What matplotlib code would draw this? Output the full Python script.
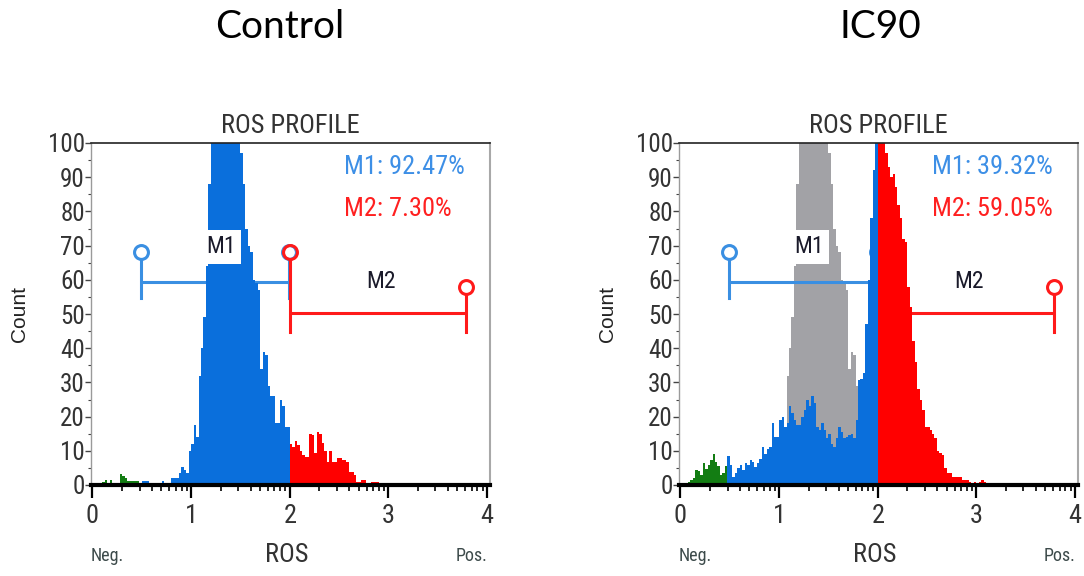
import numpy as np
import matplotlib
matplotlib.use("Agg")
import matplotlib.pyplot as plt
from matplotlib import font_manager

# ---------------- data ----------------
BIN_START = 0.0
BIN_WIDTH = 0.025
GATE_SPLIT = [0.475, 2.0]          # Neg. | M1 | M2 colour boundaries

control_counts = [
    0, 0, 0, 0, 1, 1.5, 0.5, 1.5, 0, 0, 0, 3.2, 2.5, 2, 1.2, 1.2, 1.2, 1.2, 1.2, 0,
    1.2, 1.2, 1.2, 0, 0, 0, 0, 0, 1.2, 0, 0, 0, 2, 2, 2, 3.5, 5.3, 4.5, 3.5, 10,
    12, 17.5, 14, 32, 40, 49, 64, 88, 104, 108, 112, 115, 118, 120, 118, 116, 113, 110, 106, 102,
    97, 88, 75, 70, 68, 60, 59, 57, 34, 39, 38, 29, 26, 26, 18, 18, 25, 23, 17, 17,
    12, 11, 13, 11.7, 10, 8.8, 8.3, 8.3, 15, 14.6, 9.3, 15.6, 15, 12.2, 10, 6.8, 10, 6.8, 6.8, 7.8,
    7.8, 7.3, 7.3, 6.8, 3.8, 3.8, 2.9, 1, 1, 1.5, 1.5, 0.5, 0, 1, 1, 1, 0.5, 0, 0, 0,
    0, 0, 0, 0, 0, 0, 0, 0, 0, 0,
]

ic90_counts = [
    0, 0, 0, 1, 1.5, 2, 4.4, 4, 2.9, 6.5, 4.7, 5.8, 7.3, 9, 6.8, 5.5, 2.9, 3.5, 5.6, 8.5,
    5.8, 2.4, 3.5, 5, 5.8, 4.4, 6.5, 5.8, 7.3, 6.8, 5.4, 6.5, 7.6, 11, 9, 10.5, 11, 18, 14, 14,
    19, 20, 17, 18, 23, 21, 19, 17.5, 17.5, 20, 22, 25, 23, 26, 24, 17, 16, 18, 16, 13.6,
    15, 12, 11, 13.6, 17, 15.6, 13.6, 14, 14.5, 15, 13.6, 19, 30.7, 31, 32.7, 47, 60, 78, 92, 102,
    110, 108, 103, 97, 93, 90, 91, 87, 82, 78, 72, 71, 58, 52, 42, 36, 28, 25, 22, 17,
    17, 16, 15, 13.7, 10, 9.5, 8.8, 5, 3.5, 3.5, 2.4, 2.4, 2.4, 2.4, 1.5, 1.5, 1.5, 1, 0.5, 1,
    0.5, 1, 1.5, 1, 0.5, 0.5, 0, 0, 0, 0,
]

panel_titles = ["Control", "IC90"]
m1_percent = ["92.47%", "39.32%"]
m2_percent = ["7.30%", "59.05%"]

# gate markers: [start, end]
m1_gate = [0.49, 1.99]
m2_gate = [2.0, 3.79]
m1_level = 59.5
m2_level = 50.2

x_ticks = [0, 1, 2, 3, 4]
y_ticks = list(range(0, 101, 10))

# ---------------- styling ----------------
C_GREEN = "#137d13"
C_BLUE = "#0a6fdc"
C_RED = "#ff0000"
C_GRAY = "#a2a2a6"
C_GATE_BLUE = "#3a8fe2"
C_GATE_RED = "#ff1a1a"
C_TEXT = "#333333"


def pick_font(cands, default="DejaVu Sans"):
    names = {f.name for f in font_manager.fontManager.ttflist}
    for c in cands:
        if c in names:
            return c
    return default


NARROW = pick_font(["Liberation Sans Narrow", "Arial Narrow", "Roboto Condensed",
                    "Open Sans Condensed"], "DejaVu Sans")
NARROW_STRETCH = "normal" if NARROW != "DejaVu Sans" else "condensed"
TITLE_FONT = pick_font(["Lato", "Open Sans"], "DejaVu Sans")
PLAIN = pick_font(["Liberation Sans", "Noto Sans"], "DejaVu Sans")

nfont = dict(family=NARROW, stretch=NARROW_STRETCH)

fig = plt.figure(figsize=(10.84, 5.76), dpi=100)
fig.patch.set_facecolor("white")

axes_pos = [
    [91 / 1084, 1 - 485 / 576, 399 / 1084, 342 / 576],
    [679 / 1084, 1 - 485 / 576, 399 / 1084, 342 / 576],
]
title_x = [280 / 1084, 880 / 1084]

edges = BIN_START + BIN_WIDTH * np.arange(len(control_counts) + 1)
lefts = edges[:-1]


def draw_hist(ax, counts, color_by_gate, zorder, gray=None):
    counts = np.asarray(counts, dtype=float)
    if gray is not None:
        ax.stairs(counts, edges, fill=True, color=gray, zorder=zorder, linewidth=0)
        return
    regions = [
        (lefts < GATE_SPLIT[0] - 1e-9, C_GREEN),
        ((lefts >= GATE_SPLIT[0] - 1e-9) & (lefts < GATE_SPLIT[1] - 1e-9), C_BLUE),
        (lefts >= GATE_SPLIT[1] - 1e-9, C_RED),
    ]
    for mask, col in regions:
        idx = np.where(mask)[0]
        if len(idx) == 0:
            continue
        ax.stairs(counts[idx], edges[idx[0]:idx[-1] + 2], fill=True, color=col,
                  zorder=zorder, linewidth=0)


def draw_gates(ax):
    ms = 10
    # radius of circle marker in data units (y)
    ax_h_px = ax.get_position().height * fig.get_figheight() * fig.dpi
    r = (ms * fig.dpi / 72.0 / 2.0) / (ax_h_px / 100.0)
    circ_hi = 68.0
    # M1
    ax.plot(m1_gate, [m1_level, m1_level], color=C_GATE_BLUE, lw=2.2, zorder=2,
            solid_capstyle="butt")
    for xe in m1_gate:
        ax.plot([xe, xe], [54.7, circ_hi - r], color=C_GATE_BLUE, lw=2.2, zorder=2)
        ax.plot([xe], [circ_hi], marker="o", ms=ms, mfc="none", mec=C_GATE_BLUE,
                mew=2.2, zorder=2)
    # M2
    ax.plot(m2_gate, [m2_level, m2_level], color=C_GATE_RED, lw=2.2, zorder=2,
            solid_capstyle="butt")
    tops = [circ_hi, 58.0]
    for xe, yt in zip(m2_gate, tops):
        ax.plot([xe, xe], [44.8, yt - r], color=C_GATE_RED, lw=2.2, zorder=2)
        ax.plot([xe], [yt], marker="o", ms=ms, mfc="none", mec=C_GATE_RED,
                mew=2.2, zorder=2)
    # labels with white boxes
    box = dict(facecolor="white", edgecolor="none", pad=4)
    ax.text(1.30, 69.6, "M1", ha="center", va="center", fontsize=17, color="#1a1a2a",
            bbox=box, zorder=5, **nfont)
    ax.text(2.93, 59.6, "M2", ha="center", va="center", fontsize=17, color="#1a1a2a",
            bbox=box, zorder=5, **nfont)


for k in range(2):
    ax = fig.add_axes(axes_pos[k])
    ax.set_xlim(-0.015, 4.03)
    ax.set_ylim(0, 100)

    if k == 1:
        draw_hist(ax, control_counts, False, 1, gray=C_GRAY)
        draw_hist(ax, ic90_counts, True, 3)
    else:
        draw_hist(ax, control_counts, True, 3)
    draw_gates(ax)

    # stats text
    ax.text(2.55, 93, "M1: " + m1_percent[k], color="#3d8fe6", fontsize=19,
            ha="left", va="center", zorder=6, **nfont)
    ax.text(2.55, 80.7, "M2: " + m2_percent[k], color="#ff2020", fontsize=19,
            ha="left", va="center", zorder=6, **nfont)

    # spines
    ax.spines["left"].set_color("#9a9a9a")
    ax.spines["left"].set_linewidth(1.0)
    ax.spines["right"].set_color("#a8a8a8")
    ax.spines["right"].set_linewidth(1.5)
    ax.spines["top"].set_color("#222222")
    ax.spines["top"].set_linewidth(1.2)
    ax.spines["bottom"].set_color("black")
    ax.spines["bottom"].set_linewidth(3.0)
    for s in ax.spines.values():
        s.set_zorder(7)

    # ticks
    ax.set_xticks(x_ticks)
    ax.set_xticklabels([str(t) for t in x_ticks])
    minor_x = [d + np.log10(m) for d in range(4) for m in range(2, 10)]
    ax.set_xticks(minor_x, minor=True)
    ax.set_yticks(y_ticks)
    ax.set_yticklabels([str(t) for t in y_ticks])
    ax.set_yticks(list(range(5, 100, 10)), minor=True)

    ax.tick_params(axis="x", which="major", direction="out", length=9, width=1.6,
                   color="black", pad=5, labelsize=19, labelcolor=C_TEXT)
    ax.tick_params(axis="x", which="minor", direction="out", length=4, width=1.2,
                   color="black")
    ax.tick_params(axis="y", which="major", direction="out", length=4, width=1.0,
                   color="#444444", pad=0.5, labelsize=18, labelcolor=C_TEXT)
    ax.tick_params(axis="y", which="minor", direction="out", length=2.5, width=0.8,
                   color="#444444")
    for lab in ax.get_xticklabels() + ax.get_yticklabels():
        lab.set_family(NARROW)
        lab.set_stretch(NARROW_STRETCH)

    ax.set_title("ROS PROFILE", fontsize=19, color=C_TEXT, pad=7, **nfont)
    ax.text(-0.178, 0.5, "Count", rotation=90, ha="center", va="center",
            transform=ax.transAxes, fontsize=15, color="#222222", family=PLAIN)
    ax.text(0.49, -0.205, "ROS", ha="center", va="center", transform=ax.transAxes,
            fontsize=19, color=C_TEXT, **nfont)
    ax.text(0.04, -0.207, "Neg.", ha="center", va="center", transform=ax.transAxes,
            fontsize=13, color="#3c4a4a", **nfont)
    ax.text(0.955, -0.207, "Pos.", ha="center", va="center", transform=ax.transAxes,
            fontsize=13, color="#3c4a4a", **nfont)

    fig.text(title_x[k], 1 - 27 / 576, panel_titles[k], ha="center", va="center",
             fontsize=28, color="black", family=TITLE_FONT)

fig.savefig("out.png", dpi=100, facecolor="white")
